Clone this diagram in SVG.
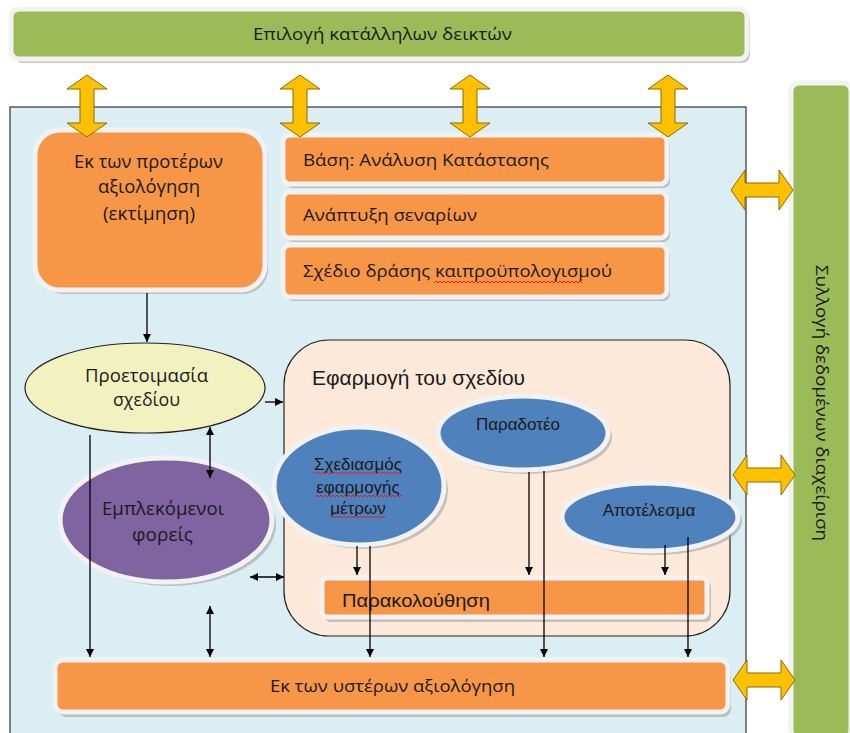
<svg xmlns="http://www.w3.org/2000/svg" width="850" height="733" viewBox="0 0 850 733">
<defs>
<style>
.t{font-family:"Liberation Sans","Noto Sans",sans-serif;fill:#1a1a1a}
.c{font-family:"Open Sans","Liberation Sans",sans-serif;fill:#1a1a1a}
.org{fill:#F79646;stroke:#F2F2F2;stroke-width:5}
.grn{fill:#9BBB59;stroke:#F2F2F2;stroke-width:5}
.blu{fill:#4F81BD;stroke:#F2F2F2;stroke-width:5}
.sh{fill:#9a9a9a;opacity:0.55}
.ln{stroke:#000;stroke-width:1.3;fill:none}
.ya{fill:#FFC000;stroke:#8a6d00;stroke-width:1}
.sq{stroke:#e02020;stroke-width:1;fill:none}
</style>
<marker id="ah" viewBox="0 0 10 10" refX="10" refY="5" markerWidth="8" markerHeight="8" orient="auto-start-reverse" markerUnits="userSpaceOnUse">
<path d="M0,0 L10,5 L0,10 z" fill="#000"/>
</marker>
<polygon id="dv" points="0,-31 20,-17 7,-17 7,17 20,17 0,31 -20,17 -7,17 -7,-17 -20,-17"/>
</defs>

<!-- main background -->
<rect id="main" x="10" y="107" width="736" height="640" fill="#DAEEF3" stroke="#333" stroke-width="1.2"/>

<!-- top green bar -->
<g id="indicators">
<rect class="sh" x="14" y="13" width="736" height="50" rx="8"/>
<rect class="grn" x="11" y="9" width="736" height="50" rx="8"/>
<text class="c" x="253" y="40" font-size="17" textLength="259" lengthAdjust="spacingAndGlyphs">Επιλογή κατάλληλων δεικτών</text>
</g>

<!-- right green bar -->
<g id="datacollection">
<rect class="sh" x="794" y="86" width="60" height="655" rx="8"/>
<rect class="grn" x="791" y="83" width="60" height="655" rx="8"/>
<text class="c" transform="translate(816,265) rotate(90)" x="0" y="0" font-size="16" textLength="276" lengthAdjust="spacingAndGlyphs">Συλλογή δεδομένων διαχείριση</text>
</g>

<!-- peach implementation box -->
<g id="implementation">
<rect x="284" y="340" width="446" height="296" rx="45" fill="#FDE9D9" stroke="#222" stroke-width="1.2"/>
<text class="t" x="312" y="385" font-size="20" textLength="213" lengthAdjust="spacingAndGlyphs">Εφαρμογή του σχεδίου</text>
</g>

<!-- ex-ante box -->
<g id="exante">
<rect class="sh" x="38" y="134" width="230" height="160" rx="25"/>
<rect class="org" x="35" y="130" width="230" height="160" rx="25"/>
<text class="c" font-size="18">
<tspan x="74" y="168" textLength="149" lengthAdjust="spacingAndGlyphs">Εκ των προτέρων</tspan>
<tspan x="98" y="193" textLength="102" lengthAdjust="spacingAndGlyphs">αξιολόγηση</tspan>
<tspan x="103" y="220" textLength="92" lengthAdjust="spacingAndGlyphs">(εκτίμηση)</tspan>
</text>
</g>

<g id="baseline">
<rect class="sh" x="286" y="138" width="384" height="50" rx="7"/>
<rect class="org" x="283" y="135" width="384" height="49" rx="7"/>
<text class="c" x="303" y="166" font-size="17" textLength="246" lengthAdjust="spacingAndGlyphs">Βάση: Ανάλυση Κατάστασης</text>
</g>
<g id="scenarios">
<rect class="sh" x="286" y="195" width="384" height="47" rx="7"/>
<rect class="org" x="283" y="192" width="384" height="46" rx="7"/>
<text class="c" x="303" y="221" font-size="17" textLength="174" lengthAdjust="spacingAndGlyphs">Ανάπτυξη σεναρίων</text>
</g>
<g id="actionplan">
<rect class="sh" x="286" y="248" width="384" height="53" rx="7"/>
<rect class="org" x="283" y="245" width="384" height="52" rx="7"/>
<text class="c" x="303" y="277" font-size="17" textLength="309" lengthAdjust="spacingAndGlyphs">Σχέδιο δράσης καιπροϋπολογισμού</text>
<path class="sq" d="M434,283 l2,-2 l2,2 l2,-2 l2,2 l2,-2 l2,2 l2,-2 l2,2 l2,-2 l2,2 l2,-2 l2,2 l2,-2 l2,2 l2,-2 l2,2 l2,-2 l2,2 l2,-2 l2,2 l2,-2 l2,2 l2,-2 l2,2 l2,-2 l2,2 l2,-2 l2,2 l2,-2 l2,2 l2,-2 l2,2 l2,-2 l2,2 l2,-2 l2,2 l2,-2 l2,2 l2,-2 l2,2 l2,-2 l2,2 l2,-2 l2,2 l2,-2 l2,2 l2,-2 l2,2 l2,-2 l2,2 l2,-2 l2,2 l2,-2 l2,2 l2,-2 l2,2 l2,-2 l2,2 l2,-2 l2,2 l2,-2 l2,2 l2,-2 l2,2 l2,-2 l2,2 l2,-2 l2,2 l2,-2 l2,2 l2,-2 l2,2 l2,-2 l2,2"/>
</g>

<!-- preparation ellipse -->
<g id="preparation">
<ellipse cx="145" cy="388" rx="120" ry="45" fill="#F2F2C0" stroke="#222" stroke-width="1.2"/>
<text class="c" font-size="18">
<tspan x="85" y="382" textLength="123" lengthAdjust="spacingAndGlyphs">Προετοιμασία</tspan>
<tspan x="113" y="406" textLength="67" lengthAdjust="spacingAndGlyphs">σχεδίου</tspan>
</text>
</g>

<!-- stakeholders -->
<g id="stakeholders">
<ellipse class="sh" cx="170" cy="524" rx="106" ry="62"/>
<ellipse cx="166" cy="520" rx="106" ry="62" fill="#8064A2" stroke="#F2F2F2" stroke-width="5"/>
<text class="c" font-size="19">
<tspan x="102" y="515" textLength="122" lengthAdjust="spacingAndGlyphs">Εμπλεκόμενοι</tspan>
<tspan x="132" y="541" textLength="61" lengthAdjust="spacingAndGlyphs">φορείς</tspan>
</text>
</g>

<!-- blue ellipses -->
<g id="measures">
<ellipse class="sh" cx="363" cy="490" rx="85" ry="59"/>
<ellipse class="blu" cx="359" cy="486" rx="85" ry="59"/>
<text class="t" font-size="17" text-anchor="middle"><tspan x="358" y="470">Σχεδιασμός</tspan><tspan x="358" y="493">εφαρμογής</tspan><tspan x="358" y="514">μέτρων</tspan></text>
<path class="sq" d="M313,474 l2,-2 l2,2 l2,-2 l2,2 l2,-2 l2,2 l2,-2 l2,2 l2,-2 l2,2 l2,-2 l2,2 l2,-2 l2,2 l2,-2 l2,2 l2,-2 l2,2 l2,-2 l2,2 l2,-2 l2,2 l2,-2 l2,2 l2,-2 l2,2 l2,-2 l2,2 l2,-2 l2,2 l2,-2 l2,2 l2,-2 l2,2 l2,-2 l2,2 l2,-2 l2,2 l2,-2 l2,2 l2,-2 l2,2 l2,-2 l2,2 M315,497 l2,-2 l2,2 l2,-2 l2,2 l2,-2 l2,2 l2,-2 l2,2 l2,-2 l2,2 l2,-2 l2,2 l2,-2 l2,2 l2,-2 l2,2 l2,-2 l2,2 l2,-2 l2,2 l2,-2 l2,2 l2,-2 l2,2 l2,-2 l2,2 l2,-2 l2,2 l2,-2 l2,2 l2,-2 l2,2 l2,-2 l2,2 l2,-2 l2,2 l2,-2 l2,2 l2,-2 l2,2 l2,-2 l2,2 l2,-2 l2,2 M330,518 l2,-2 l2,2 l2,-2 l2,2 l2,-2 l2,2 l2,-2 l2,2 l2,-2 l2,2 l2,-2 l2,2 l2,-2 l2,2 l2,-2 l2,2 l2,-2 l2,2 l2,-2 l2,2 l2,-2 l2,2 l2,-2 l2,2 l2,-2 l2,2 l2,-2 l2,2"/>
</g>
<g id="deliverable">
<ellipse class="sh" cx="527" cy="437" rx="85" ry="37"/>
<ellipse class="blu" cx="523" cy="433" rx="85" ry="37"/>
<text class="t" x="518" y="430" font-size="17" text-anchor="middle">Παραδοτέο</text>
</g>
<g id="result">
<ellipse class="sh" cx="654" cy="521" rx="88" ry="34"/>
<ellipse class="blu" cx="650" cy="517" rx="88" ry="34"/>
<text class="t" x="649" y="516" font-size="17" text-anchor="middle">Αποτέλεσμα</text>
</g>

<g id="monitoring">
<rect class="sh" x="325" y="582" width="386" height="40" rx="5"/>
<rect class="org" x="322" y="578" width="385" height="39" rx="5"/>
<text class="t" x="342" y="607" font-size="19" textLength="148" lengthAdjust="spacingAndGlyphs">Παρακολούθηση</text>
</g>

<g id="expost">
<rect class="sh" x="58" y="664" width="673" height="53" rx="8"/>
<rect class="org" x="55" y="660" width="673" height="52" rx="8"/>
<text class="c" x="270" y="692" font-size="17" textLength="245" lengthAdjust="spacingAndGlyphs">Εκ των υστέρων αξιολόγηση</text>
</g>

<!-- yellow double arrows -->
<g id="yellowarrows">
<use href="#dv" class="ya" transform="translate(87,106)"/>
<use href="#dv" class="ya" transform="translate(300,106)"/>
<use href="#dv" class="ya" transform="translate(470,106)"/>
<use href="#dv" class="ya" transform="translate(668,106)"/>
<use href="#dv" class="ya" transform="translate(762,190) rotate(90)"/>
<use href="#dv" class="ya" transform="translate(764,475) rotate(90)"/>
<use href="#dv" class="ya" transform="translate(764,680) rotate(90)"/>
</g>

<!-- connectors -->
<g id="connectors">
<line class="ln" x1="147" y1="293" x2="147" y2="342" marker-end="url(#ah)"/>
<line class="ln" x1="265" y1="402" x2="283" y2="402" marker-end="url(#ah)"/>
<line class="ln" x1="210" y1="427" x2="210" y2="478" marker-start="url(#ah)" marker-end="url(#ah)"/>
<line class="ln" x1="90" y1="435" x2="90" y2="657" marker-end="url(#ah)"/>
<line class="ln" x1="250" y1="577" x2="284" y2="577" marker-start="url(#ah)" marker-end="url(#ah)"/>
<line class="ln" x1="210" y1="606" x2="210" y2="657" marker-start="url(#ah)" marker-end="url(#ah)"/>
<line class="ln" x1="357" y1="546" x2="357" y2="575" marker-end="url(#ah)"/>
<line class="ln" x1="370" y1="546" x2="370" y2="657" marker-end="url(#ah)"/>
<line class="ln" x1="529" y1="472" x2="529" y2="575" marker-end="url(#ah)"/>
<line class="ln" x1="544" y1="471" x2="544" y2="657" marker-end="url(#ah)"/>
<line class="ln" x1="665" y1="545" x2="665" y2="575" marker-end="url(#ah)"/>
<line class="ln" x1="688" y1="537" x2="688" y2="657" marker-end="url(#ah)"/>
</g>
</svg>
